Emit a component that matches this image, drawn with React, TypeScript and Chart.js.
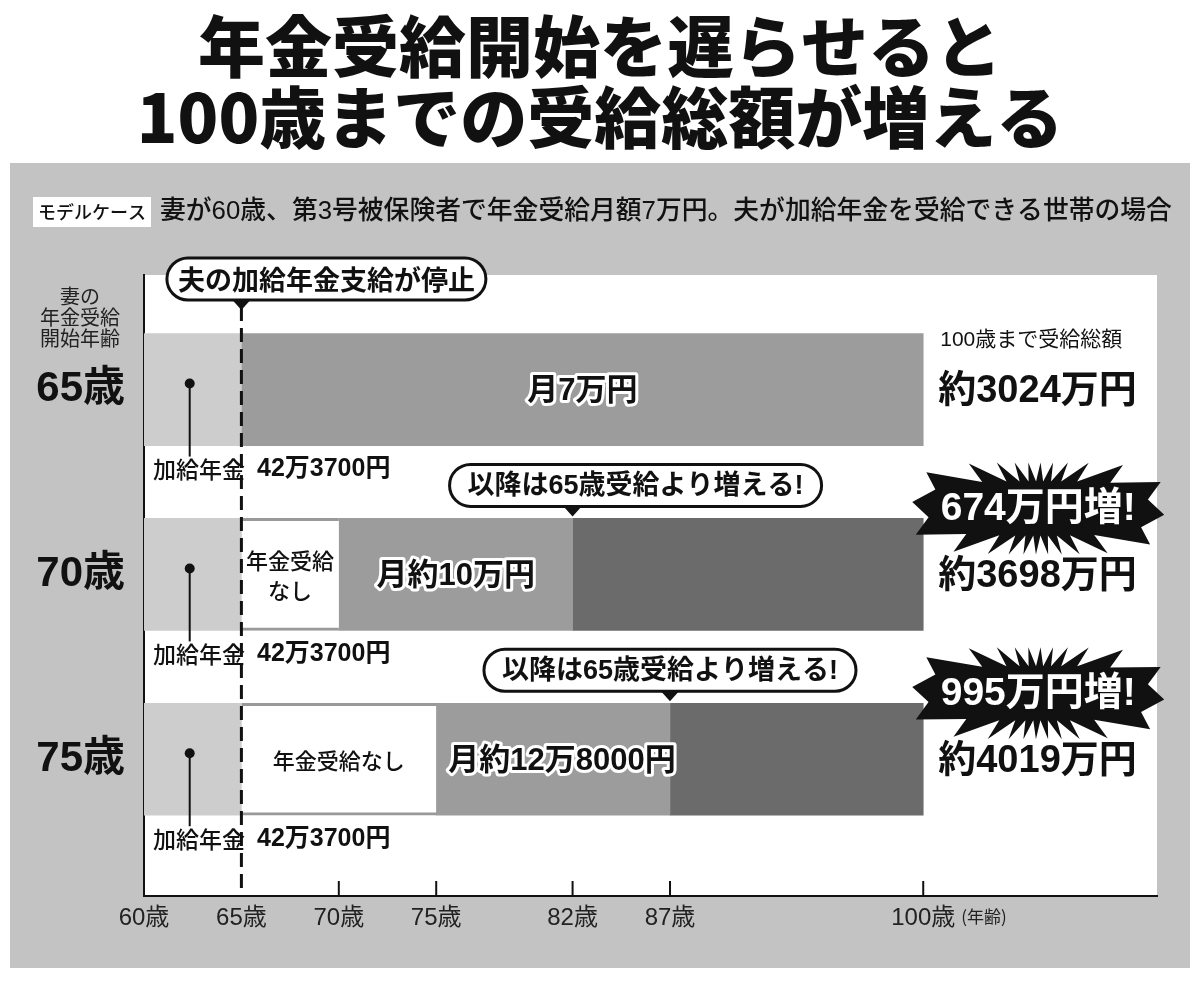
import React, { useEffect, useRef } from 'react';
import { Chart, registerables } from 'chart.js';

Chart.register(...registerables);

const FF = '"Liberation Sans", "Noto Sans CJK JP", sans-serif';
const JP = '"Noto Sans CJK JP", sans-serif';

// ---- data ----
const titleLines = ['年金受給開始を遅らせると', '100歳までの受給総額が増える'];
const caseTag = 'モデルケース';
const caseText = '妻が60歳、第3号被保険者で年金受給月額7万円。夫が加給年金を受給できる世帯の場合';
const yAxisTitle = ['妻の', '年金受給', '開始年齢'];
const rowLabels = ['65歳', '70歳', '75歳'];
const rowIndex = [0, 1, 2];
const supplementStart = 60;
const supplementEnd = 65;
const claimStart = [65, 70, 75];
const breakEvenAge: (number | null)[] = [null, 82, 87];
const endAge = 100;
const monthlyLabels = ['月7万円', '月約10万円', '月約12万8000円'];
const totalHeader = '100歳まで受給総額';
const totalLabels = ['約3024万円', '約3698万円', '約4019万円'];
const increaseLabels: (string | null)[] = [null, '674万円増!', '995万円増!'];
const supplementName = '加給年金';
const supplementAmount = '42万3700円';
const noPensionText = '年金受給なし';
const stopCallout = '夫の加給年金支給が停止';
const moreCallout = '以降は65歳受給より増える!';
const xTickValues = [60, 65, 70, 75, 82, 87, 100];
const xTickLabels = ['60歳', '65歳', '70歳', '75歳', '82歳', '87歳', '100歳'];
const xUnit = '(年齢)';

const supplementData = rowIndex.map((r) => ({ x: [supplementStart, supplementEnd], y: r }));
const noPensionData = rowIndex
  .filter((r) => claimStart[r] > supplementEnd)
  .map((r) => ({ x: [supplementEnd, claimStart[r]], y: r }));
const beforeData = rowIndex.map((r) => ({ x: [claimStart[r], breakEvenAge[r] ?? endAge], y: r }));
const afterData = rowIndex
  .filter((r) => breakEvenAge[r] != null)
  .map((r) => ({ x: [breakEvenAge[r] as number, endAge], y: r }));

// ---- helpers ----
function txt(ctx: CanvasRenderingContext2D, s: string, x: number, y: number, font: string, color = '#111', align: CanvasTextAlign = 'left') {
  ctx.font = font;
  ctx.fillStyle = color;
  ctx.textAlign = align;
  ctx.textBaseline = 'middle';
  ctx.fillText(s, x, y);
}

function outlined(ctx: CanvasRenderingContext2D, s: string, x: number, y: number, font: string, fill: string, stroke: string, lw: number, align: CanvasTextAlign = 'center') {
  ctx.font = font;
  ctx.textAlign = align;
  ctx.textBaseline = 'middle';
  ctx.lineJoin = 'round';
  ctx.lineWidth = lw;
  ctx.strokeStyle = stroke;
  ctx.strokeText(s, x, y);
  ctx.fillStyle = fill;
  ctx.fillText(s, x, y);
}

function pill(ctx: CanvasRenderingContext2D, cx: number, cy: number, s: string, font: string, tipX: number, padX: number) {
  ctx.font = font;
  const w = ctx.measureText(s).width + padX * 2;
  const h = 42;
  const r = h / 2;
  const l = cx - w / 2;
  const t = cy - h / 2;
  ctx.beginPath();
  ctx.moveTo(l + r, t);
  ctx.lineTo(l + w - r, t);
  ctx.arc(l + w - r, cy, r, -Math.PI / 2, Math.PI / 2);
  ctx.lineTo(l + r, t + h);
  ctx.arc(l + r, cy, r, Math.PI / 2, Math.PI * 1.5);
  ctx.closePath();
  ctx.fillStyle = '#fff';
  ctx.fill();
  ctx.lineWidth = 3;
  ctx.strokeStyle = '#111';
  ctx.stroke();
  ctx.beginPath();
  ctx.moveTo(tipX - 9, t + h);
  ctx.lineTo(tipX + 9, t + h);
  ctx.lineTo(tipX, t + h + 10);
  ctx.closePath();
  ctx.fillStyle = '#111';
  ctx.fill();
  txt(ctx, s, cx, cy + 1, font, '#111', 'center');
}

function starburst(ctx: CanvasRenderingContext2D, cx: number, cy: number) {
  const n = 24;
  ctx.beginPath();
  for (let i = 0; i < n * 2; i++) {
    const t = (i / (n * 2)) * Math.PI * 2 + 0.05;
    const outer = i % 2 === 0;
    const a = outer ? 126 : 110;
    const b = outer ? 46 : 27;
    const c = Math.cos(t);
    const s = Math.sin(t);
    const r = 1 / Math.pow(Math.pow(Math.abs(c) / a, 4) + Math.pow(Math.abs(s) / b, 4), 0.25);
    const X = cx + r * c;
    const Y = cy + r * s;
    if (i === 0) ctx.moveTo(X, Y);
    else ctx.lineTo(X, Y);
  }
  ctx.closePath();
  ctx.fillStyle = '#111';
  ctx.fill();
}

const decorPlugin = {
  id: 'decor',
  beforeDraw(chart: any) {
    const { ctx, chartArea: ca, width, height } = chart;
    ctx.save();
    ctx.fillStyle = '#ffffff';
    ctx.fillRect(0, 0, width, height);
    ctx.fillStyle = '#c3c3c3';
    ctx.fillRect(10, 163, 1180, 805);
    ctx.fillStyle = '#ffffff';
    ctx.fillRect(ca.left, ca.top, ca.right - ca.left, ca.bottom - ca.top);

    // title
    txt(ctx, titleLines[0], 600, 47, `900 67px ${JP}`, '#111', 'center');
    txt(ctx, titleLines[1], 600, 118, `900 67px ${JP}`, '#111', 'center');

    // model case
    ctx.fillStyle = '#fff';
    ctx.fillRect(33, 197, 118, 30);
    txt(ctx, caseTag, 92, 212, `500 18px ${JP}`, '#111', 'center');
    txt(ctx, caseText, 160, 212, `500 25.8px ${FF}`, '#111', 'left');

    // y axis title
    yAxisTitle.forEach((s, i) => txt(ctx, s, 80, 296 + i * 21, `400 20px ${JP}`, '#222', 'center'));
    ctx.restore();
  },
  afterDatasetsDraw(chart: any) {
    const { ctx, chartArea: ca } = chart;
    const xs = chart.scales.x;
    const ys = chart.scales.y;
    const px = (v: number) => xs.getPixelForValue(v);
    const py = (v: number) => ys.getPixelForValue(v);
    const half = 56;
    ctx.save();

    // inward tick marks
    ctx.strokeStyle = '#111';
    ctx.lineWidth = 2;
    xTickValues.forEach((v) => {
      if (v <= supplementEnd) return;
      ctx.beginPath();
      ctx.moveTo(px(v), ca.bottom);
      ctx.lineTo(px(v), ca.bottom - 15);
      ctx.stroke();
    });
    // "(年齢)"
    ctx.font = `400 24px ${FF}`;
    const w100 = ctx.measureText(xTickLabels[xTickLabels.length - 1]).width;
    txt(ctx, xUnit, px(endAge) + w100 / 2 + 6, ca.bottom + 21, `400 17px ${JP}`, '#222', 'left');

    rowIndex.forEach((r) => {
      const cy = py(r);
      // supplement marker
      const dx = px((supplementStart + supplementEnd) / 2) - 3;
      ctx.strokeStyle = '#111';
      ctx.lineWidth = 2;
      ctx.beginPath();
      ctx.moveTo(dx, cy - 6);
      ctx.lineTo(dx, cy + 67);
      ctx.stroke();
      ctx.beginPath();
      ctx.arc(dx, cy - 6, 5, 0, Math.PI * 2);
      ctx.fillStyle = '#111';
      ctx.fill();
      ctx.font = `500 23px ${JP}`;
      const nx = px(supplementStart) + 9;
      txt(ctx, supplementName, nx, cy + 80, `500 23px ${JP}`, '#111', 'left');
      const nw = ctx.measureText(supplementName).width;
      txt(ctx, supplementAmount, nx + nw + 12, cy + 80, `700 25px ${FF}`, '#111', 'left');

      // no-pension label
      if (claimStart[r] > supplementEnd) {
        const l = px(supplementEnd);
        const rr = px(claimStart[r]);
        const f = `500 22px ${JP}`;
        ctx.font = f;
        const tw = ctx.measureText(noPensionText).width;
        if (tw + 10 > rr - l) {
          txt(ctx, noPensionText.slice(0, 4), (l + rr) / 2, cy - 14, f, '#111', 'center');
          txt(ctx, noPensionText.slice(4), (l + rr) / 2, cy + 16, f, '#111', 'center');
        } else {
          txt(ctx, noPensionText, (l + rr) / 2, cy + 1, f, '#111', 'center');
        }
      }

      // monthly label
      const sl = px(claimStart[r]);
      const sr = px(breakEvenAge[r] ?? endAge);
      const mf = `700 31px ${FF}`;
      ctx.font = mf;
      const mw = ctx.measureText(monthlyLabels[r]).width;
      if (mw + 24 > sr - sl) outlined(ctx, monthlyLabels[r], sl + 12, cy + 2, mf, '#111', '#fff', 6, 'left');
      else outlined(ctx, monthlyLabels[r], (sl + sr) / 2, cy + 2, mf, '#111', '#fff', 6, 'center');

      // totals
      txt(ctx, totalLabels[r], px(endAge) + 15, cy + 2, `700 38px ${FF}`, '#111', 'left');
      const inc = increaseLabels[r];
      if (inc) {
        const sx = px(endAge) + 115;
        const sy = cy - 66;
        starburst(ctx, sx, sy);
        outlined(ctx, inc, sx, sy + 1, `700 39px ${FF}`, '#fff', '#111', 5, 'center');
      }
      // callouts
      const be = breakEvenAge[r];
      if (be != null) {
        const cx = r === 1 ? px(be) + 63 : px(be);
        pill(ctx, cx, cy - half - 33, moreCallout, `700 27px ${FF}`, px(be), 18);
      }
    });
    txt(ctx, totalHeader, px(endAge) + 17, 340, `400 21px ${FF}`, '#111', 'left');

    // dashed line at 65
    ctx.strokeStyle = '#111';
    ctx.lineWidth = 3;
    ctx.setLineDash([14, 7]);
    ctx.beginPath();
    ctx.moveTo(px(supplementEnd), ca.top + 32);
    ctx.lineTo(px(supplementEnd), ca.bottom);
    ctx.stroke();
    ctx.setLineDash([]);

    // stop callout
    pill(ctx, px(supplementEnd) + 85, ca.top + 4, stopCallout, `700 27px ${JP}`, px(supplementEnd), 11);
    ctx.restore();
  },
};

export default function App() {
  const ref = useRef<HTMLCanvasElement>(null);
  useEffect(() => {
    if (!ref.current) return;
    Chart.defaults.font.family = FF;
    const common = { barThickness: 112, grouped: false, borderSkipped: false as const, borderWidth: 0 };
    const chart = new Chart(ref.current, {
      type: 'bar',
      data: {
        datasets: [
          { label: '加給年金', data: supplementData as any, backgroundColor: '#cdcdcd', ...common },
          {
            label: '年金受給なし',
            data: noPensionData as any,
            backgroundColor: '#ffffff',
            ...common,
            borderWidth: { top: 3, bottom: 3, left: 0, right: 0 } as any,
            borderColor: '#999999',
          },
          { label: '受給', data: beforeData as any, backgroundColor: '#9c9c9c', ...common },
          { label: '65歳受給より増える期間', data: afterData as any, backgroundColor: '#6b6b6b', ...common },
        ],
      },
      options: {
        indexAxis: 'y',
        animation: false,
        responsive: false,
        layout: { padding: { top: 275, left: 10, right: 43, bottom: 46 } },
        plugins: { legend: { display: false }, tooltip: { enabled: false }, title: { display: false } },
        scales: {
          x: {
            type: 'linear',
            position: 'bottom',
            min: 60,
            max: 112,
            offset: false,
            grid: { display: false, drawTicks: false },
            border: { display: true, color: '#111', width: 2 },
            afterBuildTicks: (s: any) => {
              s.ticks = xTickValues.map((v) => ({ value: v }));
            },
            afterFit: (s: any) => {
              s.height = 40;
            },
            ticks: {
              autoSkip: false,
              maxRotation: 0,
              padding: 8,
              color: '#222',
              font: { size: 24, family: FF, weight: 'normal' },
              callback: (_v: any, i: number) => xTickLabels[i],
            },
          },
          y: {
            type: 'linear',
            reverse: true,
            min: -0.62,
            max: 2.74,
            offset: false,
            grid: { display: false, drawTicks: false, offset: false },
            border: { display: true, color: '#111', width: 2 },
            afterBuildTicks: (s: any) => {
              s.ticks = rowIndex.map((v) => ({ value: v }));
            },
            afterFit: (s: any) => {
              s.width = 134;
            },
            ticks: {
              padding: 19,
              color: '#111',
              font: { size: 42, family: FF, weight: 'bold' },
              callback: (v: any) => rowLabels[v] ?? '',
            },
          },
        },
      } as any,
      plugins: [decorPlugin],
    });
    return () => chart.destroy();
  }, []);
  return (
    <div style={{ position: 'absolute', left: 0, top: 0, width: 1200, height: 982 }}>
      <canvas ref={ref} width={1200} height={982} style={{ display: 'block', width: 1200, height: 982 }} />
    </div>
  );
}
